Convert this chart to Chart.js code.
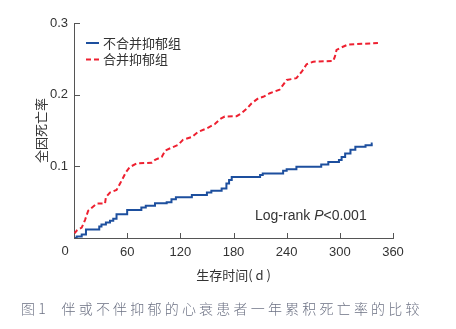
<!DOCTYPE html>
<html>
<head>
<meta charset="utf-8">
<script src="https://cdn.jsdelivr.net/npm/chart.js@4.4.1/dist/chart.umd.min.js"></script>
<style>
  html, body { margin: 0; padding: 0; background: #fff; }
  .wrap { position: relative; width: 456px; height: 329px; }
  .caption {
    position: absolute; left: 21px; top: 298px;
    font-family: "Noto Sans CJK SC", sans-serif; font-size: 14px; font-weight: 300;
    color: #6d7284; letter-spacing: 3.2px; white-space: nowrap;
  }
</style>
</head>
<body>
<div class="wrap">
  <canvas id="km" width="456" height="329"></canvas>
  <div class="caption">图1&nbsp;&nbsp;伴或不伴抑郁的心衰患者一年累积死亡率的比较</div>
</div>
<script>
// 不合并抑郁组 (步进)
const daysNoDep = [0, 3, 8.7, 13.5, 28.5, 31, 36, 40.6, 44.3, 48, 60, 76, 81, 91.4, 104.6, 110, 115, 133, 150, 155, 166.6, 172, 175, 178, 210, 213, 236, 240, 251, 279, 287, 299, 302, 306, 312, 317.5, 329, 336, 337];
const rateNoDep = [0, 0.002, 0.005, 0.012, 0.016, 0.019, 0.0215, 0.024, 0.027, 0.033, 0.039, 0.0425, 0.045, 0.0485, 0.05, 0.054, 0.057, 0.06, 0.0635, 0.066, 0.069, 0.076, 0.081, 0.085, 0.088, 0.09, 0.094, 0.096, 0.0995, 0.1025, 0.106, 0.109, 0.113, 0.118, 0.123, 0.1275, 0.1295, 0.132, 0.132];

// 合并抑郁组
const daysDep = [0, 3.7, 8.7, 12.4, 16, 25.6, 35, 36, 40.6, 48, 52, 55, 58.7, 63, 70.7, 87.6, 91.4, 99, 103, 110, 117.6, 123, 133, 140, 150, 159, 165, 170, 183.5, 189, 195.5, 200.5, 208, 213.5, 221, 232, 240, 251, 257, 262.5, 270, 292.5, 294.4, 296.3, 302, 309.4, 343];
const rateDep = [0.006, 0.011, 0.0145, 0.025, 0.038, 0.048, 0.048, 0.057, 0.0635, 0.067, 0.076, 0.083, 0.092, 0.099, 0.104, 0.105, 0.109, 0.113, 0.122, 0.126, 0.13, 0.137, 0.141, 0.148, 0.153, 0.159, 0.166, 0.1695, 0.17, 0.174, 0.181, 0.188, 0.195, 0.197, 0.202, 0.207, 0.2205, 0.223, 0.232, 0.2425, 0.246, 0.247, 0.253, 0.2625, 0.266, 0.27, 0.272];

const xTicks = [0, 60, 120, 180, 240, 300, 360];
const yTicks = [0, 0.1, 0.2, 0.3];
const labelNoDep = "不合并抑郁组";
const labelDep = "合并抑郁组";

const blue = "#1d4f9e";
const red = "#ee2030";
const axisColor = "#555";
const textColor = "#333";

const toXY = (xs, ys) => xs.map((x, i) => ({ x: x, y: ys[i] }));

// inward ticks, legend, corner "0" and log-rank note
const decor = {
  id: "decor",
  afterDraw(chart) {
    const { ctx, chartArea, scales } = chart;
    const x = scales.x, y = scales.y;
    ctx.save();
    ctx.strokeStyle = axisColor;
    ctx.lineWidth = 1;
    ctx.beginPath();
    xTicks.forEach(v => {
      const px = Math.round(x.getPixelForValue(v)) + 0.5;
      ctx.moveTo(px, chartArea.bottom);
      ctx.lineTo(px, chartArea.bottom - 5);
    });
    yTicks.forEach(v => {
      const py = Math.round(y.getPixelForValue(v)) + 0.5;
      ctx.moveTo(chartArea.left, py);
      ctx.lineTo(chartArea.left + 6, py);
    });
    ctx.stroke();

    ctx.fillStyle = textColor;
    ctx.font = '13px "Liberation Sans", Arial, sans-serif';
    ctx.textAlign = "center";
    ctx.textBaseline = "middle";
    ctx.fillText("0", chartArea.left - 9, chartArea.bottom + 13);

    // legend
    ctx.lineWidth = 2;
    ctx.strokeStyle = blue;
    ctx.setLineDash([]);
    ctx.beginPath();
    ctx.moveTo(86, 43); ctx.lineTo(99, 43);
    ctx.stroke();
    ctx.strokeStyle = red;
    ctx.setLineDash([5, 3]);
    ctx.beginPath();
    ctx.moveTo(86, 59.5); ctx.lineTo(100, 59.5);
    ctx.stroke();
    ctx.setLineDash([]);
    ctx.font = '13px "Noto Sans CJK SC", sans-serif';
    ctx.textAlign = "left";
    ctx.fillText(labelNoDep, 103, 43);
    ctx.fillText(labelDep, 103, 59.5);

    // log-rank
    ctx.font = '14px "Liberation Sans", Arial, sans-serif';
    let tx = 255;
    const ty = 216;
    ctx.fillText("Log-rank ", tx, ty);
    tx += ctx.measureText("Log-rank ").width;
    ctx.font = 'italic 14px "Liberation Sans", Arial, sans-serif';
    ctx.fillText("P", tx, ty);
    tx += ctx.measureText("P").width;
    ctx.font = '14px "Liberation Sans", Arial, sans-serif';
    ctx.fillText("<0.001", tx, ty);
    ctx.restore();
  }
};

new Chart(document.getElementById("km"), {
  type: "line",
  data: {
    datasets: [
      {
        label: labelNoDep,
        data: toXY(daysNoDep, rateNoDep),
        borderColor: blue,
        borderWidth: 2,
        stepped: true,
        pointRadius: 0,
        fill: false
      },
      {
        label: labelDep,
        data: toXY(daysDep, rateDep),
        borderColor: red,
        borderWidth: 2,
        borderDash: [5, 3],
        tension: 0,
        pointRadius: 0,
        fill: false
      }
    ]
  },
  options: {
    responsive: false,
    animation: false,
    layout: { padding: { left: 0, top: 23, right: 63, bottom: 40 } },
    plugins: { legend: { display: false }, tooltip: { enabled: false } },
    scales: {
      x: {
        type: "linear",
        min: 0,
        max: 360,
        afterBuildTicks: s => { s.ticks = xTicks.map(v => ({ value: v })); },
        afterFit: s => { s.height = 51; },
        grid: { display: false, drawTicks: false },
        border: { display: true, color: axisColor, width: 1 },
        ticks: {
          padding: 7,
          color: textColor,
          font: { family: '"Liberation Sans", Arial, sans-serif', size: 13 },
          callback: v => (v === 0 ? "" : v)
        },
        title: {
          display: true,
          text: "生存时间( d )",
          color: textColor,
          font: { family: '"Noto Sans CJK SC", sans-serif', size: 13 },
          padding: { top: 6, bottom: 6 }
        }
      },
      y: {
        min: 0,
        max: 0.3,
        afterBuildTicks: s => { s.ticks = yTicks.map(v => ({ value: v })); },
        afterFit: s => { s.width = 74; },
        grid: { display: false, drawTicks: false },
        border: { display: true, color: axisColor, width: 1 },
        ticks: {
          padding: 6,
          color: textColor,
          font: { family: '"Liberation Sans", Arial, sans-serif', size: 13 },
          callback: v => (v === 0 ? "" : v.toFixed(1))
        },
        title: {
          display: true,
          text: "全因死亡率",
          color: textColor,
          font: { family: '"Noto Sans CJK SC", sans-serif', size: 13 },
          padding: { top: 33, bottom: 33 }
        }
      }
    }
  },
  plugins: [decor]
});
</script>
</body>
</html>
